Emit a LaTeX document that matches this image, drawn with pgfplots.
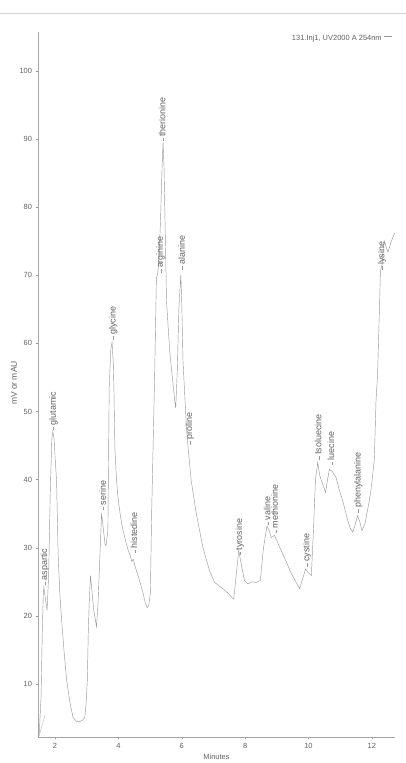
\documentclass[border=0pt]{standalone}
\usepackage{pgfplots}
\pgfplotsset{compat=1.18}
\usepackage{fontspec}
\setmainfont{Liberation Sans}
\definecolor{curve}{gray}{0.6}
\definecolor{txt}{gray}{0.38}
\newcommand{\pk}[3]{\node[rotate=90,anchor=west,inner sep=0pt,text height=6.8pt,text depth=2pt,font=\fontsize{9}{10}\selectfont,text=txt] at (axis cs:#1,#2) {\textcolor{curve}{\rule[2pt]{3.5pt}{0.4pt}}\hspace{1.5pt}#3};}
\begin{document}
\begin{tikzpicture}
\useasboundingbox (-38bp,-26bp) rectangle (368bp,737bp);
\draw[black!18, line width=0.6pt] (-38bp,724bp) -- (368bp,724bp);
\begin{axis}[
  at={(0,0)}, anchor=south west, scale only axis,
  width=357bp, height=705bp,
  xmin=1.464, xmax=12.73, ymin=2.22, ymax=105.7,
  axis x line=bottom, axis y line=left,
  axis line style={-, black!35, line width=0.4pt},
  xtick={2,4,6,8,10,12}, ytick={10,20,30,40,50,60,70,80,90,100},
  tick align=outside, major tick length=2.5pt,
  tick style={black!40, line width=0.4pt},
  ticklabel style={font=\fontsize{7.5}{8}\selectfont, text=txt},
  /pgf/number format/assume math mode=true,
  xlabel={Minutes}, ylabel={mV or mAU},
  xlabel style={at={(axis description cs:0.5,-0.0284)}, anchor=center, font=\fontsize{7.5}{8}\selectfont, text=txt},
  ylabel style={at={(axis description cs:-0.067,0.502)}, anchor=center, font=\fontsize{8.5}{9}\selectfont, text=txt},
  legend style={draw=none, fill=none, at={(axis description cs:0.994,0.990)}, anchor=east, inner sep=0pt, font=\fontsize{7.5}{8}\selectfont, text=txt},
  legend plot pos=right,
  legend image code/.code={\draw[#1] (0.05cm,0.09cm) -- (0.35cm,0.09cm);},
  clip=false,
]
\addplot[curve, line width=0.45pt] coordinates {
(1.47,2.3)(1.50,2.5)(1.56,8)(1.60,18)(1.63,23)(1.65,24.2)(1.70,22.5)(1.75,20.8)
(1.80,26)(1.85,38)(1.90,46)(1.93,47.1)(1.97,46)(2.02,42)(2.05,39.8)(2.10,29)
(2.15,23.5)(2.21,19.3)(2.30,14)(2.37,10.5)(2.47,7.3)(2.57,5.1)(2.68,4.5)(2.79,4.5)
(2.87,4.7)(2.94,5.1)(2.98,7)(3.02,10.5)(3.05,17.4)(3.08,22)(3.12,25.9)(3.16,24)
(3.22,21)(3.31,18.4)(3.36,22)(3.42,29.1)(3.47,35.1)(3.52,33)(3.58,30.5)(3.61,30.3)
(3.67,32.5)(3.71,53.4)(3.76,59)(3.80,60.2)(3.84,57)(3.86,53.4)(3.89,44.7)(3.94,40)
(3.99,37.3)(4.07,34.5)(4.15,32.5)(4.23,31)(4.31,29.6)(4.38,28.8)(4.42,28.0)(4.47,28.3)
(4.52,27.4)(4.57,26.6)(4.68,25)(4.78,23.3)(4.85,21.9)(4.91,21.2)(4.96,21.6)(5.01,23.3)
(5.05,35)(5.10,45.7)(5.15,56.4)(5.20,69.5)(5.24,70.3)(5.28,72)(5.33,78)(5.38,86)
(5.41,89.5)(5.44,86)(5.48,76)(5.52,66.2)(5.62,58.9)(5.78,51.5)(5.81,50.5)(5.86,56)
(5.91,65)(5.97,70.1)(6.00,66)(6.04,57.4)(6.12,50.1)(6.16,47)(6.20,44.7)(6.30,39.8)
(6.46,35)(6.67,30)(6.88,26.6)(7.04,24.9)(7.18,24.4)(7.30,24.0)(7.49,23.2)(7.58,22.7)
(7.64,22.5)(7.72,26)(7.80,29.6)(7.88,27.5)(7.98,25.2)(8.09,24.7)(8.22,25)(8.35,24.9)
(8.48,25.2)(8.58,30)(8.69,33.2)(8.76,32.5)(8.82,31.5)(8.93,31.8)(9.05,30.5)(9.19,29.1)
(9.33,27.6)(9.46,26.2)(9.60,25)(9.72,24.0)(9.82,25.5)(9.91,26.9)(9.98,26.4)(10.09,25.9)
(10.16,33)(10.22,40)(10.29,42.5)(10.36,40.5)(10.45,39.3)(10.54,38.1)(10.60,40)(10.66,41.5)
(10.75,41.2)(10.87,40.3)(10.97,38.5)(11.08,36.9)(11.24,34)(11.32,32.8)(11.40,32.3)(11.48,33.5)
(11.55,34.7)(11.62,33.8)(11.69,32.5)(11.78,33.5)(11.92,36.9)(12.00,39.5)(12.08,43.2)(12.13,51.5)
(12.18,55.5)(12.24,65.2)(12.27,70.6)(12.32,71.5)(12.36,74)(12.40,75)(12.46,74)(12.51,73.4)
(12.60,74.8)(12.72,76.2)
};
\addlegendentry{131.Inj1, UV2000 A 254nm}
\addplot[curve!70, line width=0.4pt, forget plot] coordinates {(1.50,2.4)(1.69,5.5)};
\pk{1.68}{24.5}{aspartic}
\pk{1.95}{47.2}{glutamic}
\pk{3.53}{35.5}{serine}
\pk{3.84}{60.5}{glycine}
\pk{4.52}{29.2}{histedine}
\pk{5.33}{70.3}{arginine}
\pk{5.41}{89.6}{therionine}
\pk{6.02}{70.8}{alanine}
\pk{6.25}{45.1}{proline}
\pk{7.83}{28.9}{tyrosine}
\pk{8.72}{33.3}{valine}
\pk{8.96}{32.1}{methionine}
\pk{9.95}{27.2}{cystine}
\pk{10.33}{42.9}{Isoluecine}
\pk{10.73}{42.1}{luecine}
\pk{11.57}{35.1}{phenylalanine}
\pk{12.32}{70.8}{lysine}
\end{axis}
\end{tikzpicture}
\end{document}
